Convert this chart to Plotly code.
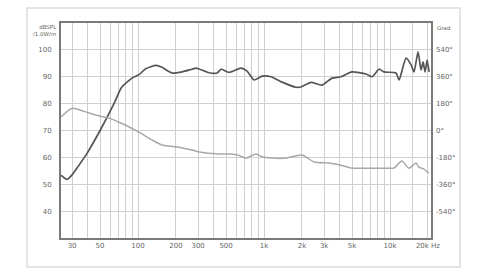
import plotly.graph_objects as go

# SPL (dB) response
spl_freq = [24.5, 27.3, 30, 32.2, 39.4, 50, 64.5, 74, 89.6, 102, 115, 139, 155, 186, 219,
            268, 289, 366, 424, 456, 527, 656, 733, 833, 965, 1136, 1390, 1795, 1967, 2360,
            2885, 3465, 4085, 4990, 6450, 7195, 8180, 8955, 11160, 11790, 13400, 14690,
            15500, 16680, 17620, 18280, 18970, 19680, 20400]
spl_db = [53.4, 51.8, 53.5, 55.5, 61.5, 70, 80, 86, 89.5, 90.8, 93, 94.2, 93.5, 91.4, 91.7,
          92.8, 93.2, 91.5, 91.4, 92.8, 91.6, 93.2, 92.1, 88.8, 90.2, 90, 88, 86.1, 86.2, 87.9,
          86.9, 89.5, 90, 91.8, 91, 90, 92.8, 91.8, 91.4, 88.8, 96.9, 94.4,
          91.8, 99.3, 92.5, 95.5, 91.8, 96.2, 91.8]

# Phase (degrees)
ph_freq = [24.5, 30, 41, 53.7, 59, 73, 82, 105, 129, 155, 211, 268, 305, 439, 546, 620, 719,
           862, 965, 1155, 1490, 2000, 2500, 3285, 3940, 4990, 6800, 7750, 9430, 10700,
           12400, 14100, 16100, 16900, 18500, 19700, 20400]
ph_deg = [90, 149, 117, 90, 83, 50, 30, -18, -63, -97, -112, -131, -144, -157, -157, -164, -185,
          -157, -176, -185, -185, -164, -211, -218, -230, -252, -252, -252, -252, -252,
          -205, -252, -218, -245, -257, -277, -284]

x_tickvals = [30, 50, 100, 200, 300, 500, 1000, 2000, 3000, 5000, 10000, 20000]
x_ticktext = ["30", "50", "100", "200", "300", "500", "1k", "2k", "3k", "5k", "10k", "20k Hz"]
x_minor = [40, 60, 70, 80, 90, 400, 600, 700, 800, 900, 4000, 6000, 7000, 8000, 9000, 15000]
y_tickvals = [40, 50, 60, 70, 80, 90, 100]
y2_tickvals = [-540, -360, -180, 0, 180, 360, 540]
y2_ticktext = ["-540°", "-360°", "-180°", "0°", "180°", "360°", "540°"]

FONT = dict(family="DejaVu Sans", size=7, color="#666666")
GRID = "#d0d0d0"

fig = go.Figure()
fig.add_trace(go.Scatter(x=ph_freq, y=ph_deg, yaxis="y2", mode="lines",
                         line=dict(color="#a8a8a8", width=1.5, shape="spline", smoothing=0.6),
                         showlegend=False, hoverinfo="skip"))
fig.add_trace(go.Scatter(x=spl_freq, y=spl_db, mode="lines",
                         line=dict(color="#555555", width=1.7, shape="spline", smoothing=0.6),
                         showlegend=False, hoverinfo="skip"))

fig.update_layout(
    width=490, height=275,
    margin=dict(l=61, r=59, t=23, b=37),
    paper_bgcolor="white", plot_bgcolor="white",
    font=FONT,
    xaxis=dict(type="log", range=[1.389, 4.325], tickvals=x_tickvals, ticktext=x_ticktext,
               showgrid=True, gridcolor=GRID, gridwidth=1,
               minor=dict(tickvals=x_minor, showgrid=True, gridcolor=GRID, gridwidth=1, ticks=""),
               showline=True, linecolor="#7a7a7a", linewidth=1.8, mirror=True,
               ticks="", tickfont=FONT, zeroline=False),
    yaxis=dict(range=[30, 110], tickvals=y_tickvals, showgrid=True, gridcolor=GRID,
               gridwidth=1, showline=True, linecolor="#7a7a7a", linewidth=1.8, mirror=True,
               ticks="", tickfont=FONT, zeroline=False, ticklabelstandoff=6),
    yaxis2=dict(range=[-720, 720], overlaying="y", side="right", tickvals=y2_tickvals,
                ticktext=y2_ticktext, showgrid=False, zeroline=False, ticks="",
                tickfont=FONT, ticklabelstandoff=4, showline=False),
)

# outer light frame
fig.add_shape(type="rect", xref="paper", yref="paper", x0=-0.0919, x1=1.0784,
              y0=-0.1349, y1=1.0698, line=dict(color="#dcdcdc", width=1.5), layer="below")

fig.add_annotation(xref="paper", yref="paper", x=-0.005, y=1.005, text="dBSPL<br>/1.0W/m",
                   showarrow=False, xanchor="right", yanchor="top", align="right",
                   font=dict(family="DejaVu Sans", size=5.5, color="#666666"))
fig.add_annotation(xref="paper", yref="paper", x=1.01, y=1.0, text="Grad",
                   showarrow=False, xanchor="left", yanchor="top",
                   font=dict(family="DejaVu Sans", size=5.5, color="#666666"))

fig.write_html("out.html")
